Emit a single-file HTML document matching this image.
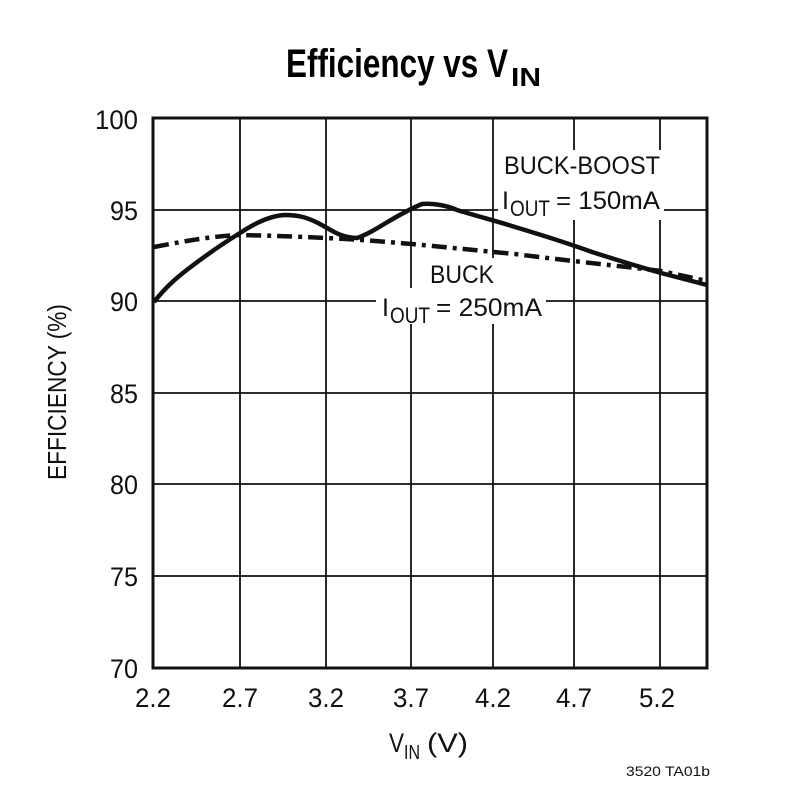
<!DOCTYPE html>
<html><head><style>body{margin:0;background:#fff}svg{display:block}</style></head>
<body>
<svg width="810" height="792" viewBox="0 0 810 792" xmlns="http://www.w3.org/2000/svg" font-family="'Liberation Sans',sans-serif">
<rect width="810" height="792" fill="#fff"/>
<text x="286" y="77" font-size="40" font-weight="bold" textLength="222" lengthAdjust="spacingAndGlyphs">Efficiency vs V</text>
<text x="511" y="86" font-size="26" font-weight="bold" textLength="30" lengthAdjust="spacingAndGlyphs">IN</text>
<g stroke="#111" stroke-width="1.8">
<line x1="240" y1="118" x2="240" y2="668"/><line x1="326" y1="118" x2="326" y2="668"/>
<line x1="411" y1="118" x2="411" y2="668"/><line x1="493" y1="118" x2="493" y2="668"/>
<line x1="574" y1="118" x2="574" y2="668"/><line x1="660" y1="118" x2="660" y2="668"/>
<line x1="153" y1="210" x2="707" y2="210"/><line x1="153" y1="301" x2="707" y2="301"/>
<line x1="153" y1="393" x2="707" y2="393"/><line x1="153" y1="484" x2="707" y2="484"/>
<line x1="153" y1="576" x2="707" y2="576"/>
</g>
<rect x="153" y="118" width="554" height="550" fill="none" stroke="#111" stroke-width="3"/>
<rect x="498" y="150" width="166" height="70" fill="#fff"/>
<rect x="376" y="288" width="170" height="36" fill="#fff"/>
<rect x="424" y="258" width="76" height="30" fill="#fff"/>
<path d="M154,247 C190,240 215,236 240,235 C290,236 330,238 361,240 C420,244 470,250 515,254 C570,261 620,266 661,271 L707,281" fill="none" stroke="#111" stroke-width="4.5" stroke-dasharray="15 6 4 6"/>
<path d="M154,302 C165,288 175,279 188,269 C205,256 222,244 240,233 C255,223 270,216 284,215 C300,215 308,218 318,223 C330,229 340,238 357,238 C375,232 395,215 422,204 C435,203 448,206 457,210 C480,217 500,222 515,227 C545,236 570,244 592,252 C620,261 640,267 661,273 L707,285" fill="none" stroke="#111" stroke-width="4.5"/>
<g font-size="25" fill="#111">
<text x="504" y="174" textLength="156" lengthAdjust="spacingAndGlyphs">BUCK-BOOST</text>
<text x="502" y="209">I</text><text x="510" y="216" font-size="22" textLength="40" lengthAdjust="spacingAndGlyphs">OUT</text><text x="556" y="209" textLength="104" lengthAdjust="spacingAndGlyphs">= 150mA</text>
<text x="430" y="283" textLength="64" lengthAdjust="spacingAndGlyphs">BUCK</text>
<text x="382" y="316">I</text><text x="390" y="323" font-size="22" textLength="40" lengthAdjust="spacingAndGlyphs">OUT</text><text x="436" y="316" textLength="106" lengthAdjust="spacingAndGlyphs">= 250mA</text>
</g>
<g font-size="27" fill="#111" text-anchor="end" lengthAdjust="spacingAndGlyphs">
<text x="138" y="129" textLength="43" lengthAdjust="spacingAndGlyphs">100</text>
<text x="138" y="220" textLength="28" lengthAdjust="spacingAndGlyphs">95</text>
<text x="138" y="311" textLength="28" lengthAdjust="spacingAndGlyphs">90</text>
<text x="138" y="403" textLength="28" lengthAdjust="spacingAndGlyphs">85</text>
<text x="138" y="494" textLength="28" lengthAdjust="spacingAndGlyphs">80</text>
<text x="138" y="586" textLength="28" lengthAdjust="spacingAndGlyphs">75</text>
<text x="138" y="678" textLength="28" lengthAdjust="spacingAndGlyphs">70</text>
</g>
<g font-size="27" fill="#111" text-anchor="middle">
<text x="153" y="707" textLength="36" lengthAdjust="spacingAndGlyphs">2.2</text>
<text x="240" y="707" textLength="36" lengthAdjust="spacingAndGlyphs">2.7</text>
<text x="326" y="707" textLength="36" lengthAdjust="spacingAndGlyphs">3.2</text>
<text x="411" y="707" textLength="36" lengthAdjust="spacingAndGlyphs">3.7</text>
<text x="493" y="707" textLength="36" lengthAdjust="spacingAndGlyphs">4.2</text>
<text x="574" y="707" textLength="36" lengthAdjust="spacingAndGlyphs">4.7</text>
<text x="657" y="707" textLength="36" lengthAdjust="spacingAndGlyphs">5.2</text>
</g>
<text x="389" y="752" font-size="27" fill="#111" textLength="15" lengthAdjust="spacingAndGlyphs">V</text>
<text x="404" y="759" font-size="20" fill="#111" textLength="16" lengthAdjust="spacingAndGlyphs">IN</text>
<text x="427" y="752" font-size="27" fill="#111" textLength="41" lengthAdjust="spacingAndGlyphs">(V)</text>
<text transform="translate(66,392) rotate(-90)" font-size="26" fill="#111" text-anchor="middle" textLength="176" lengthAdjust="spacingAndGlyphs">EFFICIENCY (%)</text>
<text x="626" y="776" font-size="14" fill="#111" textLength="84" lengthAdjust="spacingAndGlyphs">3520 TA01b</text>
</svg>
</body></html>
